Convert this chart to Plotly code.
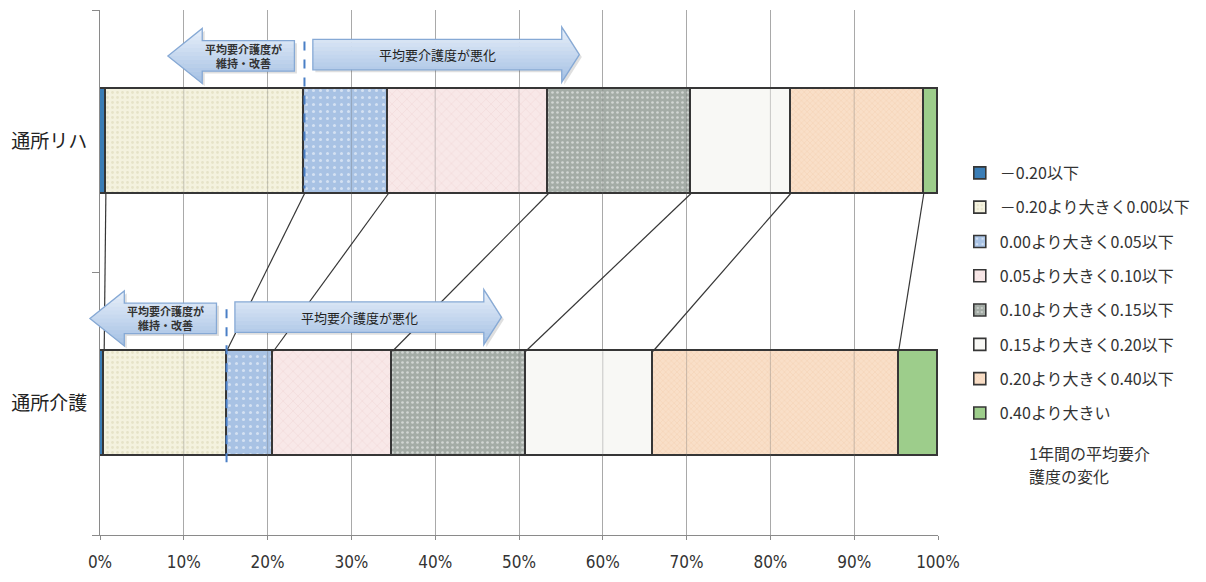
import plotly.graph_objects as go
import numpy as np

# ---- data ---------------------------------------------------------------
categories = ["通所リハ", "通所介護"]
category_y = [1, 0]

series_names = [
    "－0.20以下",
    "－0.20より大きく0.00以下",
    "0.00より大きく0.05以下",
    "0.05より大きく0.10以下",
    "0.10より大きく0.15以下",
    "0.15より大きく0.20以下",
    "0.20より大きく0.40以下",
    "0.40より大きい",
]
rehab_share = [0.7, 23.7, 10.0, 19.1, 17.0, 11.9, 15.9, 1.7]
daycare_share = [0.5, 14.6, 5.6, 14.2, 15.9, 15.2, 29.3, 4.7]

x_tick_values = [0, 10, 20, 30, 40, 50, 60, 70, 80, 90, 100]
x_tick_labels = ["0%", "10%", "20%", "30%", "40%", "50%", "60%", "70%", "80%", "90%", "100%"]

legend_title_lines = ["1年間の平均要介", "護度の変化"]
arrow_improve_text = "平均要介護度が<br>維持・改善"
arrow_worse_text = "平均要介護度が悪化"

# ---- styles -------------------------------------------------------------
FONT = "Noto Sans CJK JP"
BAR_W = 0.4
EDGE = "#363636"
styles = [
    dict(color="#3a7db6", pattern=None),
    dict(color="#f4f2df", pattern=dict(shape=".", fgcolor="#d8d4b2", size=5, solidity=0.25)),
    dict(color="#a8c2e4", pattern=dict(shape=".", fgcolor="#ffffff", size=7, solidity=0.15)),
    dict(color="#f8e8e8", pattern=dict(shape="x", fgcolor="#e9c3c5", size=7, solidity=0.15)),
    dict(color="#a4aca6", pattern=dict(shape=".", fgcolor="#ffffff", size=5, solidity=0.22)),
    dict(color="#f8f8f5", pattern=None),
    dict(color="#f9dfc8", pattern=dict(shape="x", fgcolor="#efc6a4", size=4, solidity=0.3)),
    dict(color="#9dcd8b", pattern=None),
]

fig = go.Figure()

for i, name in enumerate(series_names):
    st = styles[i]
    marker = dict(color=st["color"], line=dict(color=EDGE, width=1.6))
    if st["pattern"]:
        marker["pattern"] = dict(st["pattern"], bgcolor=st["color"], fillmode="overlay")
    fig.add_trace(go.Bar(
        name=name,
        x=[rehab_share[i], daycare_share[i]],
        y=category_y,
        orientation="h",
        width=BAR_W,
        marker=marker,
        legendgroup=f"g{i}",
        hoverinfo="x+name",
    ))

# cumulative boundaries of both bars
cum_top = np.cumsum(rehab_share)
cum_bot = np.cumsum(daycare_share)

# connector lines between matching boundaries of the two bars
cx, cy = [], []
for k in range(len(series_names) - 1):
    cx += [cum_top[k], cum_bot[k], None]
    cy += [category_y[0] - BAR_W / 2, category_y[1] + BAR_W / 2, None]
fig.add_trace(go.Scatter(x=cx, y=cy, mode="lines", line=dict(color=EDGE, width=1.2),
                         showlegend=False, hoverinfo="skip"))

# dashed split line between "improved" and "worsened"
split_top = cum_top[1]
split_bot = cum_bot[1]
fig.add_trace(go.Scatter(x=[split_top, split_top, None, split_bot, split_bot],
                         y=[1.38, 0.82, None, 0.36, -0.24], mode="lines",
                         line=dict(color="#4a7fc6", width=2, dash="dash"),
                         showlegend=False, hoverinfo="skip"))

# faint grid lines showing through the bars
shapes = []
for v in x_tick_values[1:-1]:
    for c in category_y:
        shapes.append(dict(type="line", xref="x", yref="y", x0=v, x1=v,
                           y0=c - BAR_W / 2, y1=c + BAR_W / 2, layer="above",
                           line=dict(color="rgba(110,110,110,0.35)", width=1)))


# ---- block arrows -------------------------------------------------------
def to_dom(pt):
    return (pt[0] / 100.0, (pt[1] + 0.5) / 2.0)


def clip_band(poly, y0, y1):
    def clip(points, keep, yv):
        out = []
        for i in range(len(points)):
            cur, prev = points[i], points[i - 1]
            def inter(p, q):
                t = (yv - p[1]) / (q[1] - p[1])
                return (p[0] + t * (q[0] - p[0]), yv)
            if keep(cur):
                if not keep(prev):
                    out.append(inter(prev, cur))
                out.append(cur)
            elif keep(prev):
                out.append(inter(prev, cur))
        return out
    pts = clip(poly, lambda p: p[1] >= y0, y0)
    if pts:
        pts = clip(pts, lambda p: p[1] <= y1, y1)
    return pts


def path_of(poly, dx=0.0, dy=0.0):
    pts = [to_dom(p) for p in poly]
    return "M " + " L ".join(f"{x + dx:.5f},{y + dy:.5f}" for x, y in pts) + " Z"


def mix(c1, c2, t):
    a = [int(c1[i:i + 2], 16) for i in (1, 3, 5)]
    b = [int(c2[i:i + 2], 16) for i in (1, 3, 5)]
    return "rgb(%d,%d,%d)" % tuple(round(a[j] + (b[j] - a[j]) * t) for j in range(3))


def add_arrow(poly, yc, H):
    # soft drop shadow
    shapes.append(dict(type="path", xref="x domain", yref="y domain",
                       path=path_of(poly, 2.5 / 838, -2.5 / 538),
                       fillcolor="rgba(80,80,80,0.18)", line=dict(width=0), layer="above"))
    n = 14
    lo, hi = yc - H, yc + H
    for j in range(n):
        y0 = lo + (hi - lo) * j / n
        y1 = lo + (hi - lo) * (j + 1) / n + 0.002
        band = clip_band(poly, y0, y1)
        if len(band) < 3:
            continue
        t = 1 - (j + 0.5) / n
        shapes.append(dict(type="path", xref="x domain", yref="y domain",
                           path=path_of(band), fillcolor=mix("#e8f0fa", "#a3bfe3", t),
                           line=dict(width=0), layer="above"))
    shapes.append(dict(type="path", xref="x domain", yref="y domain", path=path_of(poly),
                       fillcolor="rgba(0,0,0,0)", line=dict(color="#86a9d5", width=1.3),
                       layer="above"))


annotations = []
B, H = 0.058, 0.105
for split, c in ((split_top, category_y[0]), (split_bot, category_y[1])):
    yc = c + 0.325
    tip, xh, xe = split - 16.3, split - 12.2, split - 1.2
    left = [(tip, yc), (xh, yc + H), (xh, yc + B), (xe, yc + B),
            (xe, yc - B), (xh, yc - B), (xh, yc - H)]
    add_arrow(left, yc, H)
    annotations.append(dict(x=split - 7.3, y=yc, xref="x", yref="y", text=arrow_improve_text,
                            showarrow=False, font=dict(family=FONT, size=11, color="#333333",
                                                       weight="bold"), align="center"))
    yc2 = c + 0.33
    xs, xe2, tip2 = split + 1.0, split + 30.7, split + 32.8
    right = [(xs, yc2 + B), (xe2, yc2 + B), (xe2, yc2 + H), (tip2, yc2),
             (xe2, yc2 - H), (xe2, yc2 - B), (xs, yc2 - B)]
    add_arrow(right, yc2, H)
    annotations.append(dict(x=(xs + xe2) / 2, y=yc2, xref="x", yref="y", text=arrow_worse_text,
                            showarrow=False, font=dict(family=FONT, size=13, color="#222222")))

# title of the legend, one annotation per line
for line_text, ypos in zip(legend_title_lines, (0.1561, 0.1115)):
    annotations.append(dict(x=1.106, y=ypos, xref="paper", yref="paper", xanchor="left",
                            yanchor="middle", text=line_text, showarrow=False,
                            font=dict(family=FONT, size=16, color="#333333")))

fig.update_layout(
    width=1206, height=582,
    margin=dict(l=100, r=268, t=10, b=34),
    paper_bgcolor="white", plot_bgcolor="white",
    barmode="stack", bargap=0,
    font=dict(family=FONT, color="#333333"),
    shapes=shapes, annotations=annotations,
    showlegend=True,
    legend=dict(x=1.026, y=0.722, xanchor="left", yanchor="top",
                traceorder="grouped", tracegroupgap=10.5,
                font=dict(family=FONT, size=16, color="#333333"),
                bgcolor="rgba(0,0,0,0)"),
    xaxis=dict(range=[0, 100], tickvals=x_tick_values, ticktext=x_tick_labels,
               showgrid=True, gridcolor="#a9a9a9", gridwidth=1,
               ticks="outside", ticklen=4, tickcolor="#8a8a8a",
               showline=True, linecolor="#8a8a8a", linewidth=1, zeroline=False,
               ticklabelstandoff=8,
               tickfont=dict(family="Liberation Sans Narrow, DejaVu Sans Condensed", size=17,
                             color="#333333")),
    yaxis=dict(range=[-0.5, 1.5], tickvals=category_y, ticktext=categories,
               ticks="", showgrid=False, zeroline=False,
               showline=True, linecolor="#8a8a8a", linewidth=1,
               ticklabelstandoff=8,
               tickfont=dict(family=FONT, size=19, color="#222222"),
               minor=dict(tickvals=[-0.5, 0.5, 1.5], ticks="outside", ticklen=7,
                          tickcolor="#8a8a8a", showgrid=False)),
)

fig.write_html("out.html")
